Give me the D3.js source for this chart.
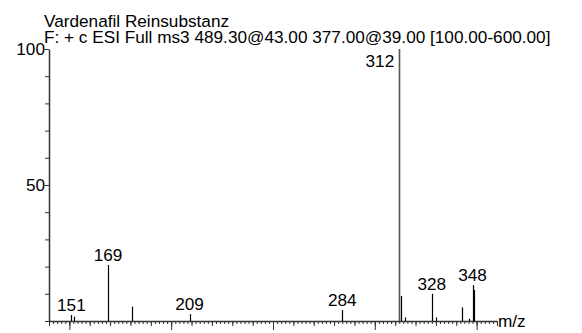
<!DOCTYPE html>
<html>
<head>
<meta charset="utf-8">
<script src="https://cdn.jsdelivr.net/npm/d3@7/dist/d3.min.js"></script>
<style>
  html, body { margin: 0; padding: 0; background: #fff; }
  svg { display: block; font-family: "Liberation Sans", Arial, sans-serif; }
</style>
</head>
<body>
<svg id="chart" width="582" height="333"></svg>
<script>
// Spectrum header
const titleLines = [
  "Vardenafil Reinsubstanz",
  "F: + c ESI Full ms3 489.30@43.00 377.00@39.00 [100.00-600.00]"
];

// Peaks: m/z and relative abundance (%)
const peakMz = [151, 152.5, 169, 181, 209, 284, 312, 313, 315, 328, 330, 343, 346.3, 348, 348.7];
const peakInt = [2.2, 1.6, 20.6, 5.3, 2.5, 4.0, 100, 9.2, 1.3, 10.0, 1.3, 5.0, 0.8, 13.2, 11.4];

// Annotated peaks
const labelMz = [151, 169, 209, 284, 312, 328, 348];
const labelInt = [2.2, 20.6, 2.5, 4.0, 100, 10.0, 13.2];

// Axis settings
const mzRange = [140, 360];
const yTickLabels = [50, 100];
const xAxisTitle = "m/z";

const svg = d3.select("#chart");
const fontSize = 17.2;

const x = d3.scaleLinear().domain(mzRange).range([49, 497]);
const y = d3.scaleLinear().domain([0, 100]).range([321, 49]);

// Title block
svg.selectAll("text.title")
  .data(titleLines)
  .join("text")
  .attr("class", "title")
  .attr("x", 44)
  .attr("y", (d, i) => 27 + i * 16)
  .attr("font-size", fontSize)
  .attr("fill", "#000")
  .text(d => d);

// X axis: minor (2), medium (10) and major (50) ticks
const axisColor = "#333";
function xTicks(step, size, withDomain) {
  const vals = d3.range(Math.ceil(mzRange[0] / step) * step, mzRange[1] + 0.001, step);
  const g = svg.append("g")
    .attr("transform", `translate(0,${y(0)})`)
    .call(d3.axisBottom(x).tickValues(vals).tickSize(size).tickSizeOuter(0).tickFormat(""));
  if (!withDomain) g.select(".domain").remove();
  g.selectAll("line").attr("stroke", axisColor);
  g.select(".domain").attr("stroke", axisColor).attr("stroke-width", 1.3);
}
xTicks(2, 3, true);
xTicks(10, 5, false);
xTicks(50, 9, false);

// Y axis
const gy = svg.append("g")
  .attr("transform", `translate(${x(mzRange[0])},0)`)
  .call(d3.axisLeft(y).tickValues(d3.range(0, 101, 10)).tickSize(4).tickSizeOuter(0).tickFormat(""));
gy.selectAll("line").attr("stroke", axisColor);
gy.select(".domain").attr("stroke", axisColor).attr("stroke-width", 1.5);

svg.selectAll("text.ylab")
  .data(yTickLabels)
  .join("text")
  .attr("class", "ylab")
  .attr("x", x(mzRange[0]) - 4)
  .attr("y", d => y(d) + 6)
  .attr("text-anchor", "end")
  .attr("font-size", fontSize)
  .text(d => d);

// X axis title
svg.append("text")
  .attr("x", x(mzRange[1]) + 1)
  .attr("y", y(0) + 6)
  .attr("font-size", fontSize)
  .text(xAxisTitle);

// Peak sticks
svg.selectAll("line.peak")
  .data(peakMz.map((m, i) => ({ m, v: peakInt[i] })))
  .join("line")
  .attr("class", "peak")
  .attr("x1", d => Math.round(x(d.m)) + 0.5)
  .attr("x2", d => Math.round(x(d.m)) + 0.5)
  .attr("y1", y(0))
  .attr("y2", d => y(d.v))
  .attr("stroke", d => d.v > 50 ? "#555" : "#000")
  .attr("stroke-width", d => d.v > 50 ? 1.6 : 1.2);

// Peak annotations
svg.selectAll("text.plab")
  .data(labelMz.map((m, i) => ({ m, v: labelInt[i] })))
  .join("text")
  .attr("class", "plab")
  .attr("x", d => d.v > 90 ? x(d.m) - 5 : x(d.m))
  .attr("y", d => d.v > 90 ? y(d.v) + 18 : y(d.v) - 4)
  .attr("text-anchor", d => d.v > 90 ? "end" : "middle")
  .attr("font-size", fontSize)
  .text(d => d.m);
</script>
</body>
</html>
